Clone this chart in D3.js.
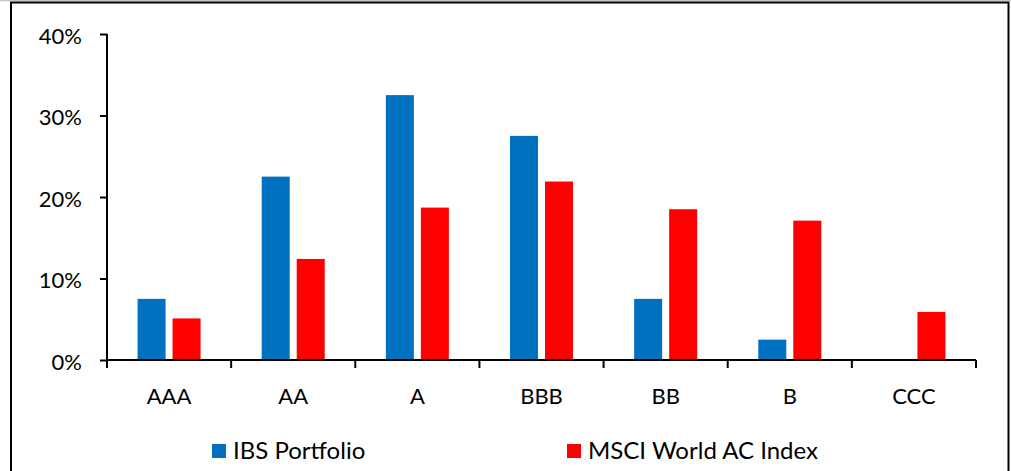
<!DOCTYPE html>
<html>
<head>
<meta charset="utf-8">
<script src="https://cdn.jsdelivr.net/npm/d3@7"></script>
<style>
  html, body { margin: 0; padding: 0; background: #fff; }
  svg { display: block; }
  text { font-family: Lato, "Open Sans", sans-serif; fill: #000; }
</style>
</head>
<body>
<svg id="chart" width="1011" height="471"></svg>
<script>
// Credit rating breakdown: portfolio vs benchmark (share of holdings, %)
const categories = ["AAA", "AA", "A", "BBB", "BB", "B", "CCC"];
const seriesNames = ["IBS Portfolio", "MSCI World AC Index"];
const ibsPortfolio = [7.5, 22.5, 32.5, 27.5, 7.5, 2.5, 0];
const msciWorldAC = [5.1, 12.4, 18.7, 21.9, 18.5, 17.1, 5.9];
const yTicks = [0, 10, 20, 30, 40];
const seriesColors = ["#0070C0", "#FF0000"];

const svg = d3.select("#chart");
const W = 1011, H = 471;

// outer frame
svg.append("rect").attr("x", 0).attr("y", 0).attr("width", W).attr("height", 1.2).attr("fill", "#c4c4c4");
svg.append("rect")
  .attr("x", 11).attr("y", 2.5).attr("width", 997.5).attr("height", H + 10)
  .attr("fill", "#fff").attr("stroke", "#000").attr("stroke-width", 2);

const plot = { left: 107, right: 976, top: 34, bottom: 360 };

const x0 = d3.scaleBand().domain(categories).range([plot.left, plot.right]).paddingInner(0).paddingOuter(0);
const groupW = 63;
const x1 = d3.scaleBand().domain(seriesNames).range([0, groupW]).paddingInner(0.2).paddingOuter(0);
const y = d3.scaleLinear().domain([0, 40]).range([plot.bottom, plot.top]);

const rows = categories.map((c, i) => ({ cat: c, vals: [ibsPortfolio[i], msciWorldAC[i]] }));

// bars
const groups = svg.append("g").selectAll("g").data(rows).join("g")
  .attr("transform", d => `translate(${x0(d.cat) + (x0.bandwidth() - groupW) / 2},0)`);
groups.selectAll("rect")
  .data(d => d.vals.map((v, j) => ({ name: seriesNames[j], v, j })))
  .join("rect")
  .attr("x", d => x1(d.name))
  .attr("width", x1.bandwidth())
  .attr("y", d => y(d.v))
  .attr("height", d => y(0) - y(d.v))
  .attr("fill", d => seriesColors[d.j]);

// y axis
const yAxis = d3.axisLeft(y).tickValues(yTicks).tickFormat(d => d + "%").tickSize(7).tickPadding(18);
const gy = svg.append("g").attr("transform", `translate(${plot.left},0)`).call(yAxis);
gy.select(".domain").attr("stroke", "#000").attr("stroke-width", 2).attr("d", `M0,${plot.top}V${plot.bottom}`);
gy.selectAll(".tick line").attr("stroke", "#000").attr("stroke-width", 2);
gy.selectAll(".tick text").attr("font-size", 22).attr("font-family", "Lato, sans-serif").attr("fill", "#000").attr("dy", "0.41em");

// x axis: ticks between categories
const xAxis = d3.axisBottom(x0).tickSize(0).tickPadding(28);
const gx = svg.append("g").attr("transform", `translate(0,${plot.bottom})`).call(xAxis);
gx.select(".domain").attr("stroke", "#000").attr("stroke-width", 2).attr("d", `M${plot.left},0H${plot.right}`);
gx.selectAll(".tick text").attr("font-size", 22).attr("font-family", "Lato, sans-serif").attr("fill", "#000").attr("dy", "0.71em");
const bounds = categories.map(c => x0(c)).concat([plot.right]);
gx.selectAll(".boundary").data(bounds).join("line")
  .attr("class", "boundary")
  .attr("x1", d => d).attr("x2", d => d)
  .attr("y1", 0).attr("y2", 8)
  .attr("stroke", "#000").attr("stroke-width", 2);

// legend
const legendX = [212, 567];
const leg = svg.append("g").selectAll("g").data(seriesNames).join("g")
  .attr("transform", (d, i) => `translate(${legendX[i]},444)`);
leg.append("rect").attr("width", 14).attr("height", 14).attr("fill", (d, i) => seriesColors[i]);
leg.append("text").attr("x", 21).attr("y", 14.5).attr("font-size", 24).text(d => d);
</script>
</body>
</html>
